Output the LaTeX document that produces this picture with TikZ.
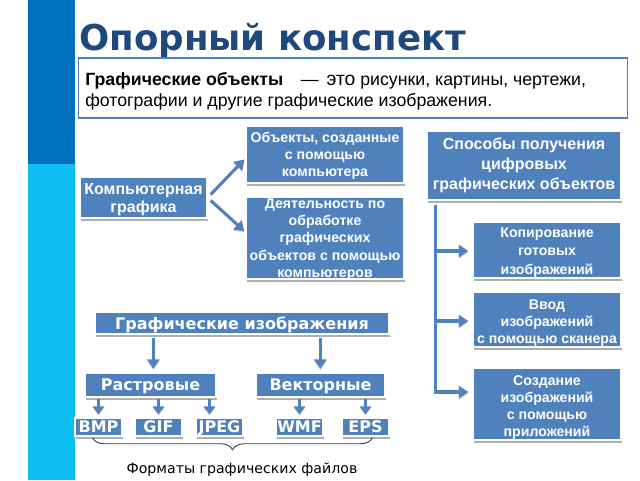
\documentclass[tikz,border=0pt]{standalone}
\usepackage{fontspec}
\setmainfont{Liberation Sans}
\newfontfamily\dvs{DejaVu Sans}
\usetikzlibrary{arrows.meta,shadows,decorations.pathreplacing,calc}
\definecolor{bluebox}{HTML}{4F81BD}
\definecolor{barDark}{HTML}{0070BE}
\definecolor{barCyan}{HTML}{0DBFF2}
\definecolor{titleBlue}{HTML}{1F497D}
\newcommand\dn[1]{\rule{0pt}{#1}}
\tikzset{
  sz/.style 2 args={minimum width=#1*0.75pt,minimum height=#2*0.75pt},
  bbox/.style={fill=bluebox,draw=white,line width=1.1pt,text=white,align=center,inner sep=0pt,
    font=\fontsize{10.6pt}{12.9pt}\selectfont\bfseries,
    drop shadow={shadow xshift=1pt,shadow yshift=-2pt,fill=gray!70,opacity=0.9}},
  btext/.style={text=white,align=center,inner sep=0pt,font=\fontsize{10.6pt}{12.9pt}\selectfont\bfseries},
  lbox/.style={bbox,font=\fontsize{12pt}{14.8pt}\selectfont\bfseries},
  fmt/.style={bbox,text height=8.8pt,text depth=0pt,font=\fontsize{12pt}{13pt}\dvs\selectfont\bfseries},
  conn/.style={draw=bluebox,line width=2.3pt,-{Triangle[length=7pt,width=9pt]},
    preaction={draw=gray!45,transform canvas={yshift=-0.9pt}}},
  small/.style={conn,line width=2pt,-{Triangle[length=6pt,width=8.5pt]}},
  trunk/.style={draw=bluebox,line width=2.3pt},
}
\begin{document}
\begin{tikzpicture}[x=0.75pt,y=-0.75pt]
\useasboundingbox (0,0) rectangle (640,480);
\fill[white] (0,0) rectangle (640,480);
\fill[barDark] (28,0) rectangle (74.5,164);
\fill[barCyan] (28,164) rectangle (74.5,480);
\node[anchor=base west,inner sep=0pt,text=titleBlue,font=\fontsize{26.7pt}{30pt}\dvs\selectfont\bfseries] (title) at (79,50) {Опорный конспект};
\node[draw=bluebox,line width=1.3pt,fill=white,sz={549}{60},inner sep=0pt] (def) at (353,88) {};
\node[anchor=base west,inner sep=0pt,font=\fontsize{13.3pt}{15pt}\selectfont] (def1) at (85,85) {\textbf{Графические объекты}\hspace{1em}—\hspace{0.45em}{\fontsize{14.5pt}{15pt}\selectfont это} рисунки, картины, чертежи,};
\node[anchor=base west,inner sep=0pt,font=\fontsize{13.3pt}{15pt}\selectfont] (def2) at (85,106) {фотографии и другие графические изображения.};

\node[bbox,sz={158}{57}] (obj) at (325,154.5) {\dn{10pt}Объекты, созданные\\с помощью\\компьютера};
\node[bbox,sz={158}{82}] (act) at (325,238) {};
\node[btext] (acttext) at (325,239.5) {Деятельность по\\обработке\\графических\\объектов с помощью\\компьютеров};
\node[lbox,font=\fontsize{12pt}{13.5pt}\selectfont\bfseries,sz={127}{41}] (cg) at (143.5,197.5) {\dn{12pt}Компьютерная\\графика};
\node[lbox,sz={194}{69}] (ways) at (524,165.5) {Способы получения\\цифровых\\графических объектов};
\node[bbox,font=\fontsize{10.6pt}{14pt}\selectfont\bfseries,sz={148}{56}] (copy) at (547,250) {\dn{11pt}Копирование\\готовых\\изображений};
\node[bbox,sz={148}{55}] (scan) at (547,319.5) {\dn{12.5pt}Ввод\\изображений\\с помощью сканера};
\node[bbox,sz={148}{72}] (app) at (547,404) {\dn{12.5pt}Создание\\изображений\\с помощью\\приложений};
\node[fmt,text height=10pt,sz={294}{22}] (gi) at (242,323) {Графические изображения};
\node[fmt,sz={131}{24}] (rast) at (150.5,385) {Растровые};
\node[fmt,sz={129}{24}] (vect) at (320.5,385) {Векторные};
\node[fmt,sz={47}{18}] (bmp) at (98.5,427) {BMP};
\node[fmt,sz={47}{18}] (gif) at (158.5,427) {GIF};
\node[fmt,sz={47}{18}] (jpeg) at (219.5,427) {JPEG};
\node[fmt,sz={47}{18}] (wmf) at (299.5,427) {WMF};
\node[fmt,sz={47}{18}] (eps) at (365.5,427) {EPS};
\node[inner sep=0pt,font=\fontsize{10.6pt}{12pt}\dvs\selectfont] (cap) at (242,470) {Форматы графических файлов};

\path[conn] ($(cg.east)+(3,-3)$) -- ($(obj.west)+(-1,5)$);
\path[conn] ($(cg.east)+(3,3)$) -- ($(act.west)+(-1,-7)$);
\coordinate (tr) at ($(ways.south west)+(9,4)$);
\draw[trunk] (tr) -- ($(tr |- app.west)+(0,-12)$);
\path[conn] ($(tr |- copy.west)+(0,1)$) -- ($(copy.west)+(-4,1)$);
\path[conn] ($(tr |- scan.west)+(0,1.5)$) -- ($(scan.west)+(-4,1.5)$);
\path[conn] ($(tr |- app.west)+(-1.5,-12)$) -- ($(app.west)+(-4,-12)$);
\path[conn] ($(gi.south west)!0.2!(gi.south east)$) ++(0,3) -- ++(0,31);
\path[conn] ($(gi.south west)!0.765!(gi.south east)$) ++(0,3) -- ++(0,31);
\path[small] (bmp.north) ++(0,-18) -- ++(0,15);
\path[small] (gif.north) ++(0,-18) -- ++(0,15);
\path[small] (jpeg.north) ++(-10,-18) -- ++(0,15);
\path[small] (wmf.north) ++(0,-18) -- ++(0,15);
\path[small] (eps.north) ++(0,-18) -- ++(0,15);
\draw[black!75,line width=0.7pt,decorate,decoration={brace,mirror,amplitude=9pt,aspect=0.5}] ($(bmp.south)+(-6,1)$) -- ($(eps.south)+(7,1)$);
\end{tikzpicture}
\end{document}
